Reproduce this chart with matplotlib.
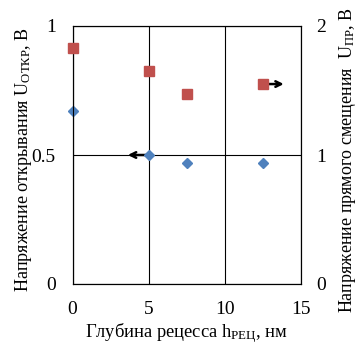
import matplotlib
matplotlib.use("Agg")
import matplotlib.pyplot as plt

plt.rcParams['font.family'] = ['Liberation Serif', 'DejaVu Serif']
plt.rcParams['mathtext.fontset'] = 'custom'
plt.rcParams['mathtext.rm'] = 'Liberation Serif'
plt.rcParams['mathtext.it'] = 'Liberation Serif:italic'
plt.rcParams['mathtext.bf'] = 'Liberation Serif:bold'

depth = [0, 5, 7.5, 12.5]
u_open = [0.67, 0.50, 0.47, 0.47]
u_forward = [1.83, 1.65, 1.47, 1.55]

x_ticks = [0, 5, 10, 15]
left_ticks = [0, 0.5, 1]
left_labels = ['0', '0.5', '1']
right_ticks = [0, 1, 2]
right_labels = ['0', '1', '2']

fig = plt.figure(figsize=(3.61, 3.45), dpi=100)
ax = fig.add_axes([72.5 / 361, 61 / 345, 228.5 / 361, 258 / 345])
ax2 = ax.twinx()

ax.set_xlim(0, 15)
ax.set_ylim(0, 1)
ax2.set_ylim(0, 2)

ax.set_xticks(x_ticks)
ax.set_yticks(left_ticks)
ax.set_yticklabels(left_labels)
ax2.set_yticks(right_ticks)
ax2.set_yticklabels(right_labels)

ax.grid(True, color='black', linewidth=0.8)
ax.tick_params(axis='x', length=0, labelsize=14, pad=12)
ax.tick_params(axis='y', length=0, labelsize=14, pad=12)
ax2.tick_params(axis='y', length=0, labelsize=14, pad=11)
for a in (ax, ax2):
    for s in a.spines.values():
        s.set_linewidth(0.8)
        s.set_color('black')

ax.plot(depth, u_open, linestyle='none', marker='D', markersize=5,
        color='#4F81BD', zorder=5, clip_on=False)
ax2.plot(depth, u_forward, linestyle='none', marker='s', markersize=7,
         color='#C0504D', zorder=5, clip_on=False)

ax.annotate('', xy=(3.45, u_open[1]), xytext=(5.0, u_open[1]),
            arrowprops=dict(arrowstyle='->', color='black', lw=1.8))
ax2.annotate('', xy=(14.05, u_forward[3]), xytext=(12.6, u_forward[3]),
             arrowprops=dict(arrowstyle='->', color='black', lw=1.8))

ax.set_xlabel('Глубина рецесса h$_{\\mathrm{РЕЦ}}$, нм', fontsize=13.3)
ax.xaxis.set_label_coords(0.5, -0.145)
ax.set_ylabel('Напряжение открывания U$_{\\mathrm{ОТКР}}$, В', fontsize=13.1)
ax.yaxis.set_label_coords(-0.168, 0.483)
ax2.set_ylabel('Напряжение прямого смещения  U$_{\\mathrm{ПР}}$, В', fontsize=13.0)
ax2.yaxis.set_label_coords(1.158, 0.48)

fig.savefig('out.png', dpi=100)
